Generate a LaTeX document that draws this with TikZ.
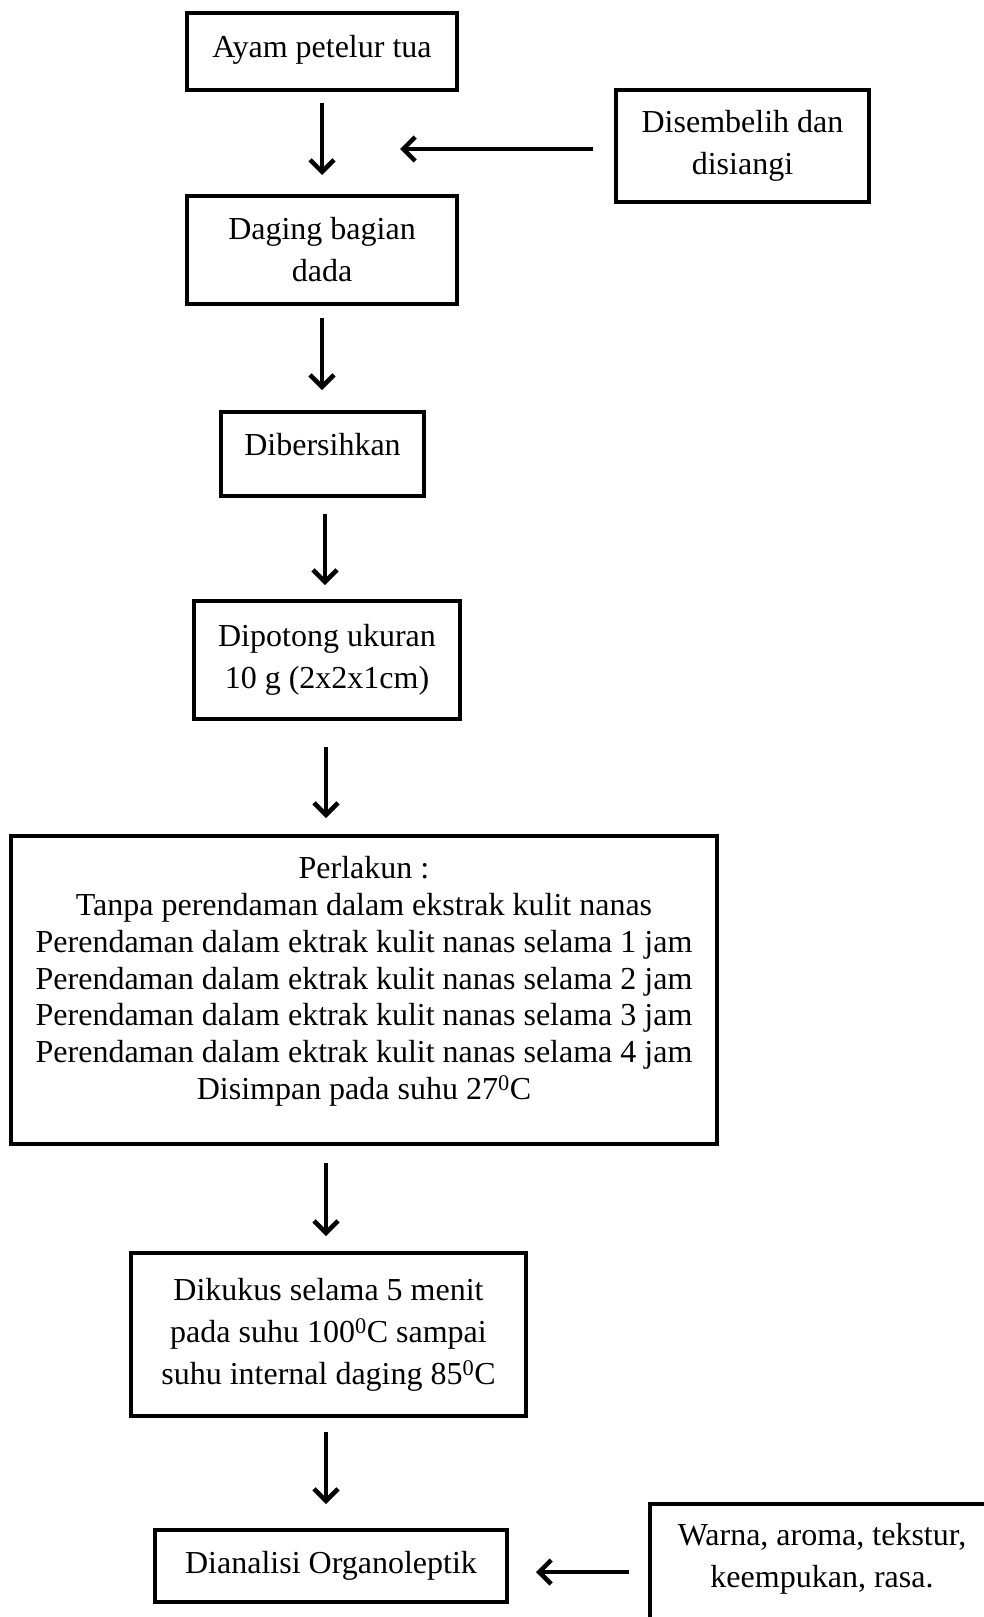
\documentclass[tikz,border=0pt]{standalone}
\usepackage{fontspec}
\setmainfont{Liberation Serif}
\usetikzlibrary{arrows.meta}
\begin{document}
\begin{tikzpicture}[x=1pt,y=-1pt,
  box/.style={draw=black,line width=4pt,rectangle,align=center,inner sep=0pt,
    font=\fontsize{32}{42}\selectfont},
  arr/.style={line width=4.5pt,-{Straight Barb[length=12pt,width=24pt]}}]
\useasboundingbox (0,0) rectangle (984,1617);
\clip (0,0) rectangle (984,1617);
\fill[white] (0,0) rectangle (984,1617);

\node[box,minimum width=270pt,minimum height=77pt,text depth=10pt] (b1) at (322,51.5) {Ayam petelur tua};
\node[box,minimum width=253pt,minimum height=112pt] (b2) at (742.5,146) {Disembelih dan\\disiangi};
\node[box,minimum width=270pt,minimum height=108pt] (b3) at (322,250) {Daging bagian\\dada};
\node[box,minimum width=203pt,minimum height=84pt,text depth=20pt] (b4) at (322.5,454) {Dibersihkan};
\node[box,minimum width=266pt,minimum height=118pt] (b5) at (327,660) {Dipotong ukuran\\10 g (2x2x1cm)};
\node[box,minimum width=706pt,minimum height=308pt,font=\fontsize{32}{36.8}\selectfont,text depth=24pt] (b6) at (364,990)
  {Perlakun :\\Tanpa perendaman dalam ekstrak kulit nanas\\
   Perendaman dalam ektrak kulit nanas selama 1 jam\\
   Perendaman dalam ektrak kulit nanas selama 2 jam\\
   Perendaman dalam ektrak kulit nanas selama 3 jam\\
   Perendaman dalam ektrak kulit nanas selama 4 jam\\
   Disimpan pada suhu 27\textsuperscript{0}C};
\node[box,minimum width=395pt,minimum height=163pt] (b7) at (328.5,1334.5)
  {Dikukus selama 5 menit\\pada suhu 100\textsuperscript{0}C sampai\\suhu internal daging 85\textsuperscript{0}C};
\node[box,minimum width=352pt,minimum height=72pt] (b8) at (331,1566) {Dianalisi Organoleptik};
\node[box,anchor=north west,minimum width=344pt,inner ysep=19pt,text depth=80pt] (b9) at (648,1502)
  {Warna, aroma, tekstur,\\keempukan, rasa.};

\coordinate (a1s) at (322,103); \coordinate (a1e) at (322,175);
\coordinate (a2s) at (322,318); \coordinate (a2e) at (322,390);
\coordinate (a3s) at (325,514); \coordinate (a3e) at (325,585);
\coordinate (a4s) at (326,747); \coordinate (a4e) at (326,818);
\coordinate (a5s) at (326,1163); \coordinate (a5e) at (326,1236);
\coordinate (a6s) at (326,1432); \coordinate (a6e) at (326,1504);
\coordinate (h1s) at (593,149); \coordinate (h1e) at (400,149);
\coordinate (h2s) at (629,1572); \coordinate (h2e) at (536,1572);

\draw[arr] (a1s) -- (a1e);
\draw[arr] (a2s) -- (a2e);
\draw[arr] (a3s) -- (a3e);
\draw[arr] (a4s) -- (a4e);
\draw[arr] (a5s) -- (a5e);
\draw[arr] (a6s) -- (a6e);
\draw[arr] (h1s) -- (h1e);
\draw[arr] (h2s) -- (h2e);
\end{tikzpicture}
\end{document}
